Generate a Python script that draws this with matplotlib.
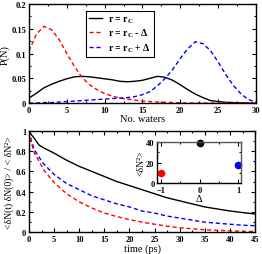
import matplotlib
matplotlib.use("Agg")
import matplotlib.pyplot as plt
from matplotlib.ticker import MultipleLocator

plt.rcParams['font.family'] = ['Liberation Serif', 'DejaVu Serif']
plt.rcParams['font.weight'] = 'bold'
plt.rcParams['mathtext.fontset'] = 'custom'
plt.rcParams['mathtext.rm'] = 'Liberation Serif:bold'
plt.rcParams['mathtext.it'] = 'Liberation Serif:bold'
plt.rcParams['mathtext.default'] = 'rm'

# top panel: distribution of number of waters
n_waters = list(range(31))
p_rc = [0.010, 0.020, 0.031, 0.038, 0.044, 0.049, 0.053, 0.054, 0.053, 0.051,
        0.049, 0.047, 0.044, 0.043, 0.044, 0.046, 0.050, 0.054, 0.052, 0.046,
        0.037, 0.027, 0.018, 0.011, 0.005, 0.003, 0.0015, 0.001, 0.0005, 0.0, 0.0]
p_minus = [0.105, 0.140, 0.155, 0.148, 0.128, 0.100, 0.074, 0.052, 0.037, 0.027,
           0.019, 0.014, 0.010, 0.008, 0.006, 0.004, 0.003, 0.002, 0.0015, 0.001,
           0.0005, 0, 0, 0, 0, 0, 0, 0, 0, 0, 0]
p_plus = [0.000, 0.000, 0.001, 0.001, 0.002, 0.003, 0.004, 0.005, 0.006, 0.007,
          0.008, 0.009, 0.010, 0.011, 0.013, 0.017, 0.023, 0.035, 0.050, 0.068,
          0.090, 0.110, 0.124, 0.120, 0.106, 0.083, 0.058, 0.036, 0.019, 0.007, 0.002]

# bottom panel: autocorrelation
t_ps = [0, 0.5, 1, 2, 3, 5, 7.5, 10, 12.5, 15, 17.5, 20, 22.5, 25, 27.5, 30,
        32.5, 35, 37.5, 40, 42.5, 45]
c_rc = [1.0, 0.96, 0.93, 0.86, 0.83, 0.78, 0.71, 0.65, 0.60, 0.55, 0.50, 0.46,
        0.42, 0.38, 0.34, 0.31, 0.28, 0.25, 0.23, 0.21, 0.195, 0.18]
c_plus = [1.0, 0.90, 0.82, 0.74, 0.67, 0.57, 0.48, 0.42, 0.36, 0.32, 0.28, 0.25,
          0.21, 0.19, 0.16, 0.14, 0.12, 0.10, 0.09, 0.08, 0.07, 0.065]
c_minus = [1.0, 0.88, 0.79, 0.70, 0.61, 0.49, 0.38, 0.30, 0.24, 0.19, 0.155, 0.125,
           0.10, 0.08, 0.06, 0.045, 0.035, 0.025, 0.02, 0.015, 0.01, 0.008]

# inset: variance vs delta
delta = [-1, 0, 1]
var_n = [9.5, 38.5, 18]
var_colors = ['red', 'black', 'blue']

fig = plt.figure(figsize=(2.62, 2.55), dpi=100)
ax1 = fig.add_axes([0.1107, 0.592, 0.866, 0.388])
ax2 = fig.add_axes([0.1107, 0.085, 0.863, 0.398])
ax3 = fig.add_axes([0.600, 0.277, 0.319, 0.163])

dash = (3, 2)
ax1.plot(n_waters, p_rc, color='black', lw=1.0, label='r = r$_\\mathrm{C}$')
ax1.plot(n_waters, p_minus, color='red', lw=1.0, ls=(0, dash), label='r = r$_\\mathrm{C}$ - Δ')
ax1.plot(n_waters, p_plus, color='blue', lw=1.0, ls=(0, dash), label='r = r$_\\mathrm{C}$ + Δ')
ax1.set_xlim(0, 30)
ax1.set_ylim(0, 0.2)
ax1.xaxis.set_major_locator(MultipleLocator(5))
ax1.xaxis.set_minor_locator(MultipleLocator(2.5))
ax1.set_yticks([0, 0.05, 0.1, 0.15, 0.2])
ax1.set_yticklabels(['0', '0.05', '0.1', '0.15', '0.2'])
ax1.yaxis.set_minor_locator(MultipleLocator(0.025))
ax1.set_xlabel('No. waters', fontsize=7.5, labelpad=0)
ax1.set_ylabel('P(N)', fontsize=7.5, labelpad=1)
leg = ax1.legend(loc='upper left', bbox_to_anchor=(0.25, 0.93), fontsize=7,
                 handlelength=1.3, handletextpad=0.6, borderpad=0.35,
                 labelspacing=0.2, fancybox=False, framealpha=1, borderaxespad=0)
leg.get_frame().set_edgecolor('black')
leg.get_frame().set_linewidth(0.8)

ax2.plot(t_ps, c_rc, color='black', lw=1.0)
ax2.plot(t_ps, c_plus, color='blue', lw=1.0, ls=(0, dash))
ax2.plot(t_ps, c_minus, color='red', lw=1.0, ls=(0, dash))
ax2.set_xlim(0, 45)
ax2.set_ylim(0, 1)
ax2.xaxis.set_major_locator(MultipleLocator(5))
ax2.xaxis.set_minor_locator(MultipleLocator(2.5))
ax2.set_yticks([0, 0.2, 0.4, 0.6, 0.8, 1])
ax2.set_yticklabels(['0', '0.2', '0.4', '0.6', '0.8', '1'])
ax2.yaxis.set_minor_locator(MultipleLocator(0.1))
ax2.set_xlabel('time (ps)', fontsize=7.5, labelpad=0)
ax2.set_ylabel('<δN(t) δN(0)> / < δN²>', fontsize=7, labelpad=1)

for d, v, c in zip(delta, var_n, var_colors):
    ax3.plot(d, v, 'o', color=c, markersize=4.5, clip_on=False)
ax3.set_xlim(-1.1, 1.07)
ax3.set_ylim(0, 40)
ax3.set_xticks([-1, 0, 1])
ax3.xaxis.set_minor_locator(MultipleLocator(0.5))
ax3.set_yticks([0, 20, 40])
ax3.yaxis.set_minor_locator(MultipleLocator(10))
ax3.set_xlabel('Δ', fontsize=7.5, labelpad=0)
ax3.set_ylabel('<δN²>', fontsize=7, labelpad=0)

for ax in (ax1, ax2, ax3):
    for s in ax.spines.values():
        s.set_linewidth(1.0)
    ax.tick_params(which='both', direction='in', top=True, right=True,
                   labelsize=6, pad=2, width=0.8)
    ax.tick_params(which='major', length=3)
    ax.tick_params(which='minor', length=1.5)
ax3.spines['top'].set_color('#555555')
ax3.spines['right'].set_color('#555555')

fig.savefig('out.png', dpi=100)
